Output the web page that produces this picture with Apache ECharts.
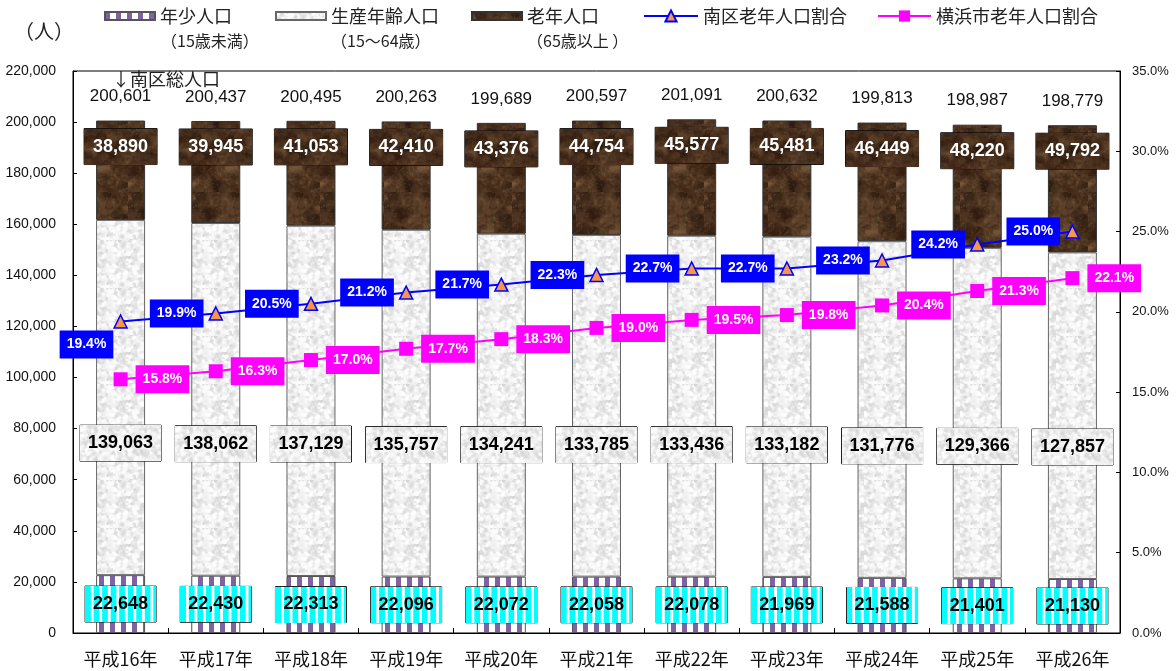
<!DOCTYPE html>
<html>
<head>
<meta charset="utf-8">
<script src="https://cdn.jsdelivr.net/npm/echarts@6/dist/echarts.min.js"></script>
<style>
html,body{margin:0;padding:0;background:#fff;}
#chart{width:1176px;height:671px;}
</style>
</head>
<body>
<div id="chart"></div>
<script>
// ---- data ----
const categories = ['平成16年','平成17年','平成18年','平成19年','平成20年','平成21年','平成22年','平成23年','平成24年','平成25年','平成26年'];
const youngPop   = [22648, 22430, 22313, 22096, 22072, 22058, 22078, 21969, 21588, 21401, 21130];
const workingPop = [139063, 138062, 137129, 135757, 134241, 133785, 133436, 133182, 131776, 129366, 127857];
const elderPop   = [38890, 39945, 41053, 42410, 43376, 44754, 45577, 45481, 46449, 48220, 49792];
const totalPop   = [200601, 200437, 200495, 200263, 199689, 200597, 201091, 200632, 199813, 198987, 198779];
const minamiRatio  = [19.4, 19.9, 20.5, 21.2, 21.7, 22.3, 22.7, 22.7, 23.2, 24.2, 25.0];
const yokohamaRatio = [15.8, 16.3, 17.0, 17.7, 18.3, 19.0, 19.5, 19.8, 20.4, 21.3, 22.1];

// ---- textures (deterministic) ----
let seed = 1234567;
function rnd(){ seed = (Math.imul(seed, 1664525) + 1013904223) >>> 0; return seed / 4294967296; }
function mk(w,h){ const c=document.createElement('canvas'); c.width=w; c.height=h; return c; }

function brownTex(w,h){
  const c=mk(w,h), g=c.getContext('2d');
  g.fillStyle='#4d3120'; g.fillRect(0,0,w,h);
  for(let i=0;i<w*h/14;i++){
    const x=rnd()*w, y=rnd()*h, r=2+rnd()*6;
    const light = rnd()<0.45;
    g.fillStyle = light ? 'rgba(130,98,66,'+(0.08+rnd()*0.18)+')' : 'rgba(35,20,10,'+(0.1+rnd()*0.22)+')';
    g.beginPath(); g.arc(x,y,r,0,Math.PI*2); g.fill();
  }
  for(let i=0;i<w*h/40;i++){
    const x=rnd()*w, y=rnd()*h;
    g.fillStyle='rgba(170,140,100,'+(0.15+rnd()*0.25)+')';
    g.fillRect(x,y,1,1);
  }
  return c;
}
function grayTex(w,h){
  const c=mk(w,h), g=c.getContext('2d');
  g.fillStyle='#f0f0f0'; g.fillRect(0,0,w,h);
  for(let i=0;i<w*h/7;i++){
    const x=rnd()*w, y=rnd()*h, r=0.8+rnd()*2;
    g.fillStyle = rnd()<0.5 ? 'rgba(205,205,205,'+(0.2+rnd()*0.3)+')' : 'rgba(255,255,255,'+(0.4+rnd()*0.5)+')';
    g.beginPath(); g.arc(x,y,r,0,Math.PI*2); g.fill();
  }
  return c;
}
function purpleStripe(){
  const c=mk(11,4), g=c.getContext('2d');
  g.fillStyle='#ffffff'; g.fillRect(0,0,11,4);
  g.fillStyle='#7f62a3'; g.fillRect(0,0,5,4);
  return c;
}
function cyanStripes(w,h){
  const c=mk(w,h), g=c.getContext('2d');
  g.fillStyle='#ffffff'; g.fillRect(0,0,w,h);
  g.fillStyle='#00ffff';
  for(let x=0;x<w;x+=9){ g.fillRect(x,0,6,h); }
  return c;
}
const brownPat = brownTex(64,64);
const grayPat = grayTex(48,48);
const brownLbl = brownTex(80,40);
const grayLbl = grayTex(90,40);
const cyanLbl = cyanStripes(75,36);

const NUMF = "'Liberation Sans Narrow','Arial Narrow','Liberation Sans',Arial,sans-serif";
const JP = "'Noto Sans CJK JP','Noto Sans CJK SC',sans-serif";
const fmt = v => Number(v).toLocaleString('en-US');

const chart = echarts.init(document.getElementById('chart'));

const barBase = {
  type:'bar', stack:'pop', barWidth:49, yAxisIndex:0, z:2,
  emphasis:{disabled:true}
};
const pctLabel = (bg) => ({
  show:true, color:'#fff', fontFamily:NUMF, fontWeight:'bold', fontSize:14,
  backgroundColor:bg, padding:[6,7], lineHeight:16,
  formatter: p => Number(p.value).toFixed(1)+'%'
});
const legendText = {fontFamily:JP, fontSize:18, color:'#222'};

const option = {
  animation:false,
  grid:{left:73, right:56, top:71, bottom:38, show:true, borderColor:'#000', borderWidth:1, backgroundColor:'transparent'},
  legend:[
    {left:104, top:7, padding:0, icon:'rect', itemWidth:50, itemHeight:8, data:['年少人口'], textStyle:legendText},
    {left:275, top:7, padding:0, icon:'rect', itemWidth:50, itemHeight:8, data:['生産年齢人口'], textStyle:legendText},
    {left:471, top:7, padding:0, icon:'rect', itemWidth:50, itemHeight:8, data:['老年人口'], textStyle:legendText},
    {left:643, top:7, padding:0, itemWidth:54, itemHeight:14, data:['南区老年人口割合'], textStyle:legendText},
    {left:877, top:7, padding:0, itemWidth:53, itemHeight:14, data:['横浜市老年人口割合'], textStyle:legendText}
  ],
  graphic:[
    {type:'text', left:14, top:21, style:{text:'（人）', font:'20px '+JP, fill:'#222'}},
    {type:'text', left:161, top:33, style:{text:'（15歳未満）', font:'16px '+JP, fill:'#222'}},
    {type:'text', left:331, top:33, style:{text:'（15〜64歳）', font:'16px '+JP, fill:'#222'}},
    {type:'text', left:527, top:33, style:{text:'（65歳以上 ）', font:'16px '+JP, fill:'#222'}},
    {type:'text', left:112, top:70, z:50, style:{text:'↓南区総人口', font:'18px '+JP, fill:'#222'}}
  ],
  xAxis:{
    type:'category', data:categories, boundaryGap:true,
    axisLine:{lineStyle:{color:'#000', width:1}},
    axisTick:{show:true, inside:true, length:5, lineStyle:{color:'#000'}},
    axisLabel:{fontFamily:JP, fontSize:18, color:'#111', margin:17, interval:0}
  },
  yAxis:[
    {type:'value', min:0, max:220000, interval:20000, position:'left',
     axisLine:{show:true, lineStyle:{color:'#000'}},
     axisTick:{show:true, inside:true, length:4, lineStyle:{color:'#000'}},
     splitLine:{show:false},
     axisLabel:{fontFamily:NUMF, fontSize:14, color:'#111', margin:17, formatter:v=>fmt(v)}},
    {type:'value', min:0, max:35, interval:5, position:'right',
     axisLine:{show:true, lineStyle:{color:'#000'}},
     axisTick:{show:true, inside:true, length:4, lineStyle:{color:'#000'}},
     splitLine:{show:false},
     axisLabel:{fontFamily:NUMF, fontSize:13, color:'#111', margin:12, formatter:v=>v.toFixed(1)+'%'}}
  ],
  series:[
    Object.assign({}, barBase, {
      name:'年少人口', data:youngPop,
      itemStyle:{color:{image:purpleStripe(), repeat:'repeat'}, borderColor:'#555', borderWidth:1},
      label:{show:true, position:'inside', formatter:p=>fmt(p.value), fontFamily:NUMF, fontWeight:'bold', fontSize:18, color:'#000',
        backgroundColor:{image:cyanLbl}, borderColor:'#222', borderWidth:1, padding:[7,8], lineHeight:22}
    }),
    Object.assign({}, barBase, {
      name:'生産年齢人口', data:workingPop,
      itemStyle:{color:{image:grayPat, repeat:'repeat'}, borderColor:'#666', borderWidth:1},
      label:{show:true, position:'insideBottom', distance:114, formatter:p=>fmt(p.value), fontFamily:NUMF, fontWeight:'bold', fontSize:18, color:'#000',
        backgroundColor:{image:grayLbl}, borderColor:'#222', borderWidth:1, padding:[7,8], lineHeight:22}
    }),
    Object.assign({}, barBase, {
      name:'老年人口', data:elderPop,
      itemStyle:{color:{image:brownPat, repeat:'repeat'}, borderColor:'#333', borderWidth:1},
      label:{show:true, position:'insideTop', distance:8, formatter:p=>fmt(p.value), fontFamily:NUMF, fontWeight:'bold', fontSize:18, color:'#fff',
        backgroundColor:{image:brownLbl}, borderColor:'#111', borderWidth:1, padding:[7,9], lineHeight:22}
    }),
    {
      name:'総人口', type:'line', yAxisIndex:0, data:totalPop, z:4,
      symbol:'circle', symbolSize:1, itemStyle:{color:'rgba(0,0,0,0)'}, lineStyle:{opacity:0},
      label:{show:true, position:'top', distance:15, formatter:p=>fmt(p.value), fontFamily:NUMF, fontSize:17, color:'#111'},
      emphasis:{disabled:true}, silent:true
    },
    {
      name:'南区老年人口割合', type:'line', yAxisIndex:1, z:5,
      data: minamiRatio.map((v,i)=> i===0 ? {value:v, label:{position:'left', distance:0, offset:[0,23]}} : v),
      symbol:'triangle', symbolSize:13, showAllSymbol:true,
      lineStyle:{color:'#0000ff', width:2},
      itemStyle:{color:'#f79646', borderColor:'#0000ff', borderWidth:1.5},
      label:Object.assign(pctLabel('#0000ff'), {position:'left', distance:5}),
      emphasis:{disabled:true}
    },
    {
      name:'横浜市老年人口割合', type:'line', yAxisIndex:1, z:5,
      data: yokohamaRatio,
      symbol:'rect', symbolSize:14, showAllSymbol:true,
      lineStyle:{color:'#ff00ff', width:2},
      itemStyle:{color:'#ff00ff', borderColor:'#ff00ff', borderWidth:0},
      label:Object.assign(pctLabel('#ff00ff'), {position:'right', distance:8}),
      emphasis:{disabled:true}
    }
  ]
};
chart.setOption(option);
</script>
</body>
</html>
